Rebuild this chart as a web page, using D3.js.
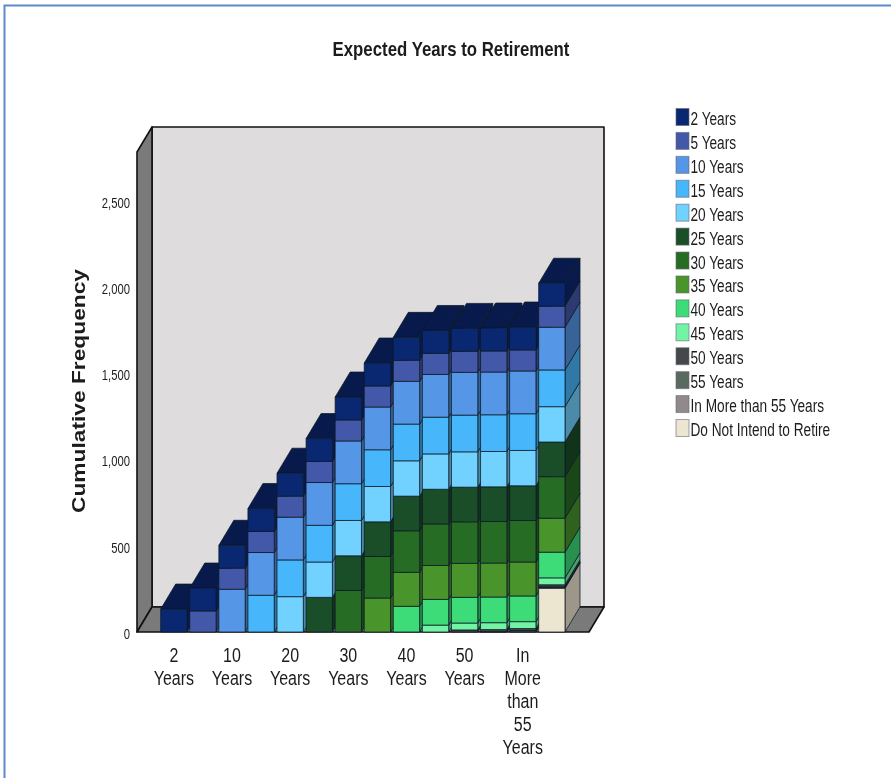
<!DOCTYPE html>
<html>
<head>
<meta charset="utf-8">
<script src="https://cdn.jsdelivr.net/npm/d3@7.9.0/dist/d3.min.js"></script>
<style>
  html, body { margin: 0; padding: 0; background: #fff; }
  svg { display: block; filter: blur(0.35px); }
  text { font-family: "Liberation Sans", Arial, sans-serif; fill: #1c1c1c; }
</style>
</head>
<body>
<div id="chart"></div>
<script>
const categories = ['2 Years', '5 Years', '10 Years', '15 Years', '20 Years', '25 Years', '30 Years',
  '35 Years', '40 Years', '45 Years', '50 Years', '55 Years', 'In More than 55 Years', 'Do Not Intend to Retire'];
// frequency of each answer
const counts = [133, 122, 248, 213, 205, 201, 241, 197, 149, 40, 12, 2, 6, 254];
const colors = ['#0a2872', '#4358a8', '#5596e6', '#48b6fb', '#72d2ff', '#1a4e28', '#276c24',
  '#4a942c', '#3ddc78', '#72f4a4', '#45474b', '#5a6a60', '#908a8a', '#ece5d0'];
const yTicks = [0, 500, 1000, 1500, 2000, 2500];
const xLabels = [['2', 'Years'], ['10', 'Years'], ['20', 'Years'], ['30', 'Years'], ['40', 'Years'], ['50', 'Years'], ['In', 'More', 'than', '55', 'Years']];

const width = 891;
const height = 778;
const depth = { x: 15, y: -25 };

const svg = d3.select('#chart').append('svg')
  .attr('width', width)
  .attr('height', height);

const xScale = d3.scaleBand().domain(categories).range([160.7, 565]).paddingInner(0.095);
const yScale = d3.scaleLinear().domain([0, 2500]).range([632, 201]);

// squeeze text horizontally, the reference has narrow tall glyphs
function squeeze(sel, k) {
  sel.each(function () {
    const len = this.getComputedTextLength();
    d3.select(this).attr('textLength', len * k).attr('lengthAdjust', 'spacingAndGlyphs');
  });
}

function pts(list) {
  return list.map((p) => p.join(',')).join(' ');
}

// frame
svg.append('path')
  .attr('d', `M4.5,${height} V5.5 H${width}`)
  .attr('fill', 'none')
  .attr('stroke', '#5b8bcb')
  .attr('stroke-width', 2);
svg.append('line')
  .attr('x1', 4).attr('x2', width).attr('y1', 4.5).attr('y2', 4.5)
  .attr('stroke', '#aac4e4');

// title
svg.append('text')
  .attr('x', 451).attr('y', 56)
  .attr('text-anchor', 'middle')
  .attr('font-size', 21)
  .attr('font-weight', 'bold')
  .text('Expected Years to Retirement')
  .call(squeeze, 0.8);

// walls and floor
const wallLeft = 152, wallRight = 604, wallTop = 127, wallBottom = 607;
const walls = svg.append('g').attr('stroke', '#111').attr('stroke-width', 1.6).attr('stroke-linejoin', 'round');
walls.append('rect')
  .attr('x', wallLeft).attr('y', wallTop)
  .attr('width', wallRight - wallLeft).attr('height', wallBottom - wallTop)
  .attr('fill', '#dedcdd');
walls.append('polygon')
  .attr('points', pts([[wallLeft - depth.x, wallTop - depth.y], [wallLeft, wallTop], [wallLeft, wallBottom], [wallLeft - depth.x, wallBottom - depth.y]]))
  .attr('fill', '#7a7a7a');
walls.append('polygon')
  .attr('points', pts([[wallLeft - depth.x, wallBottom - depth.y], [wallLeft, wallBottom], [wallRight, wallBottom], [wallRight - depth.x, wallBottom - depth.y]]))
  .attr('fill', '#7a7a7a');

// bars, each one stacks its own answer and all the shorter ones
const segments = categories.map((cat, i) => {
  let base = 0;
  const list = [];
  for (let j = i; j >= 0; j--) {
    list.push({ cat, color: colors[j], y0: base, y1: base + counts[j], top: j === 0 });
    base += counts[j];
  }
  return list;
});

const bw = xScale.bandwidth();
const barGroups = svg.append('g')
  .selectAll('g')
  .data(segments)
  .join('g')
  .attr('stroke', '#0c1a26')
  .attr('stroke-opacity', 0.75)
  .attr('stroke-width', 1)
  .attr('stroke-linejoin', 'round');

barGroups.each(function (list) {
  const g = d3.select(this);
  for (const d of list) {
    const x0 = xScale(d.cat), x1 = x0 + bw;
    const yb = yScale(d.y0), yt = yScale(d.y1);
    const dark = d3.rgb(d.color);
    dark.r *= 0.66; dark.g *= 0.66; dark.b *= 0.66;
    g.append('polygon')
      .attr('points', pts([[x1, yb], [x1 + depth.x, yb + depth.y], [x1 + depth.x, yt + depth.y], [x1, yt]]))
      .attr('fill', dark.formatHex());
    if (d.top) {
      g.append('polygon')
        .attr('points', pts([[x0, yt], [x0 + depth.x, yt + depth.y], [x1 + depth.x, yt + depth.y], [x1, yt]]))
        .attr('fill', dark.formatHex());
    }
    g.append('rect')
      .attr('x', x0).attr('y', yt)
      .attr('width', bw).attr('height', yb - yt)
      .attr('fill', d.color);
  }
});

// y axis
const yAxis = svg.append('g')
  .attr('transform', 'translate(134,1.5)')
  .call(d3.axisLeft(yScale).tickValues(yTicks).tickSize(0).tickPadding(4).tickFormat(d3.format(',')));
yAxis.select('.domain').remove();
yAxis.selectAll('text')
  .style('font-family', '"Liberation Sans", Arial, sans-serif')
  .attr('font-size', 15)
  .call(squeeze, 0.75);

svg.append('text')
  .attr('transform', 'translate(85,391) rotate(-90)')
  .attr('text-anchor', 'middle')
  .attr('font-size', 18)
  .attr('font-weight', 'bold')
  .attr('textLength', 244)
  .attr('lengthAdjust', 'spacingAndGlyphs')
  .text('Cumulative Frequency');

// x labels, every second category
const xLabelCats = categories.filter((d, i) => i % 2 === 0);
const xTick = svg.append('g')
  .selectAll('text')
  .data(xLabels)
  .join('text')
  .attr('text-anchor', 'middle')
  .attr('font-size', 20)
  .attr('transform', (d, i) => `translate(${xScale(xLabelCats[i]) + bw / 2},662)`);
xTick.selectAll('tspan')
  .data((d) => d)
  .join('tspan')
  .attr('x', 0)
  .attr('y', (d, i) => i * 23)
  .text((d) => d);
xTick.selectAll('tspan').call(squeeze, 0.8);

// legend
const legendRow = d3.scalePoint().domain(categories).range([117, 428]);
const legend = svg.append('g')
  .selectAll('g')
  .data(categories)
  .join('g')
  .attr('transform', (d) => `translate(676,${legendRow(d)})`);
legend.append('rect')
  .attr('y', -8.5).attr('width', 13).attr('height', 17)
  .attr('fill', (d, i) => colors[i])
  .attr('stroke', '#667')
  .attr('stroke-opacity', 0.6);
legend.append('text')
  .attr('x', 14.5).attr('y', 8)
  .attr('font-size', 17.5)
  .text((d) => d)
  .call(squeeze, 0.78);
</script>
</body>
</html>
